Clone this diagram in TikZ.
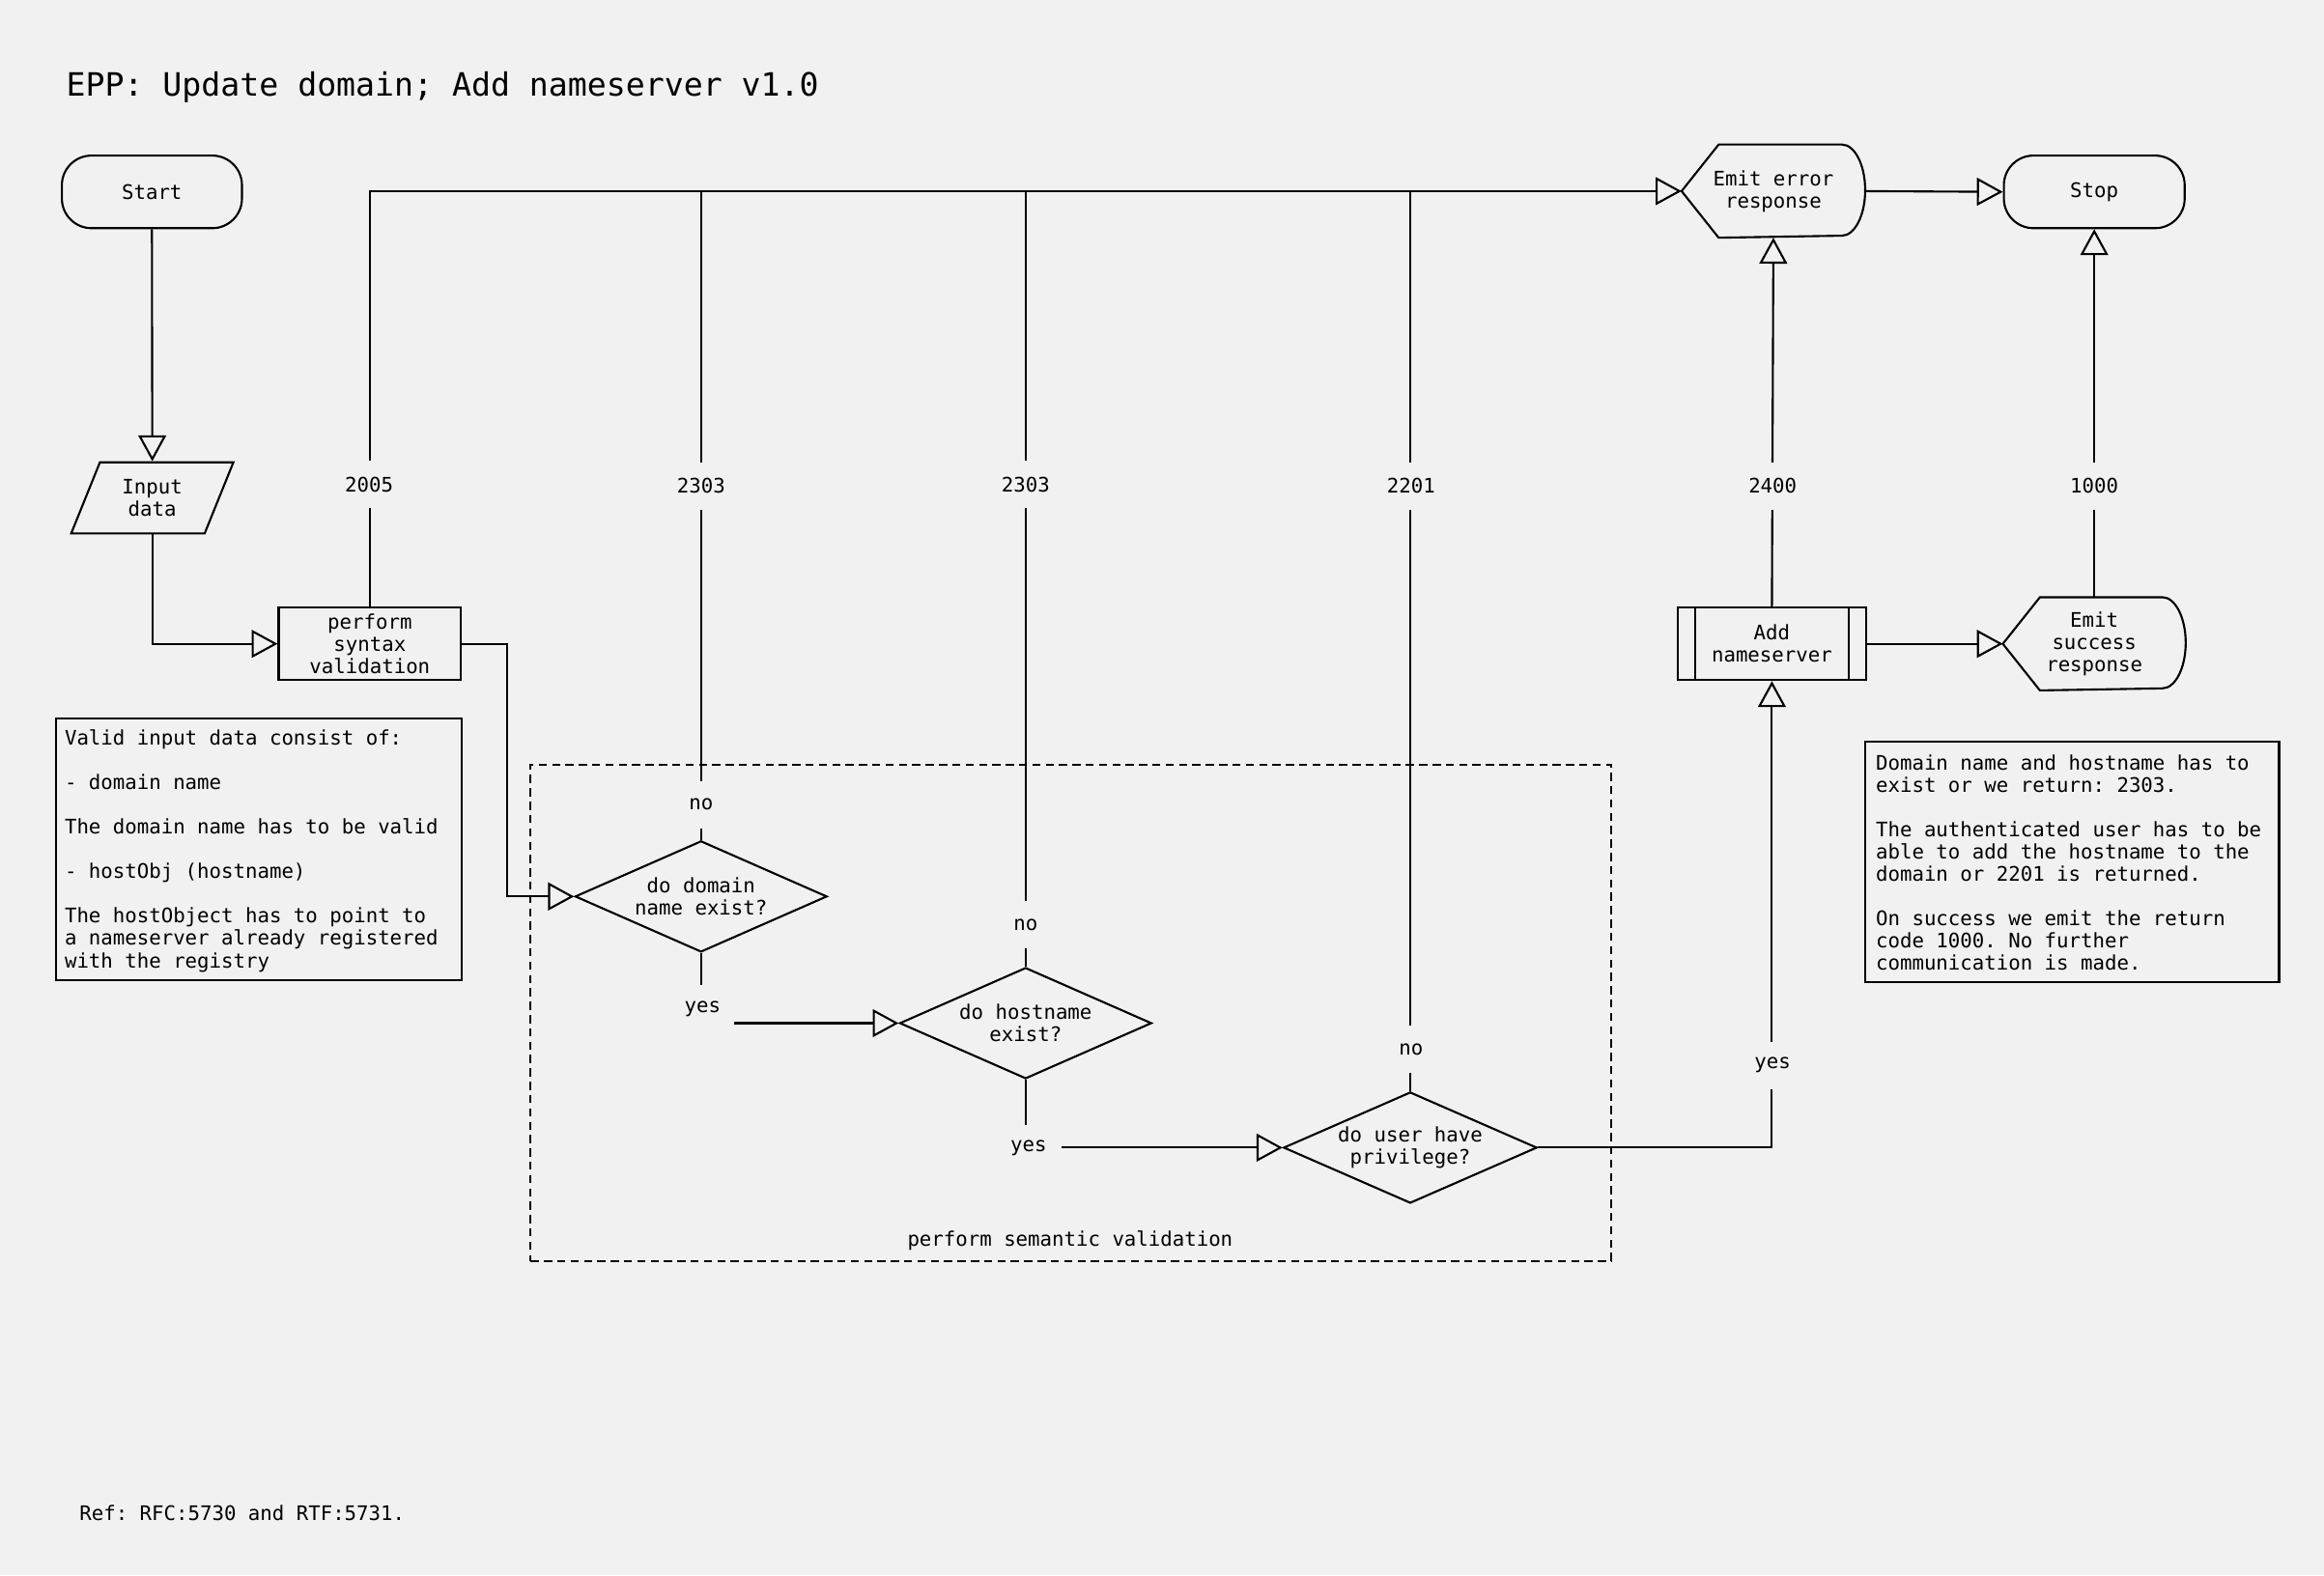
\documentclass[tikz,border=0pt]{standalone}
\usepackage{fontspec}
\newfontfamily\mono{DejaVu Sans Mono}
\usetikzlibrary{arrows.meta,shapes.geometric}
\definecolor{bgcol}{RGB}{241,241,241}
\frenchspacing
\begin{document}
\begin{tikzpicture}[x=0.4pt,y=-0.4pt, line width=0.55pt,
  txt/.style={font=\mono\fontsize{5.4}{6}\selectfont},
  shp/.style={txt, draw, align=center, inner sep=0pt},
  term/.style={shp, rounded corners=8pt, minimum width=48.6pt, minimum height=19.6pt},
  proc/.style={shp, rectangle, minimum height=19.6pt},
  io/.style={shp, trapezium, trapezium left angle=66, trapezium right angle=114, trapezium stretches=true, minimum width=43.8pt, minimum height=19.2pt},
  dec/.style={shp, diamond, aspect=2.27, minimum width=68pt, minimum height=30pt},
  disp/.style={txt, align=center, inner sep=0pt, minimum width=49pt, minimum height=24.6pt},
  lbl/.style={txt, fill=bgcol, inner xsep=1.5pt, inner ysep=0pt, minimum height=12.8pt},
  ylbl/.style={lbl, minimum width=17pt},
  arr/.style={-{Triangle[open,length=7pt,width=7.5pt]}},
  note/.style={draw, inner sep=0pt, anchor=north west},
  notetxt/.style={txt, align=left, anchor=north west, inner sep=0pt},
]
\fill[bgcol] (0,0) rectangle (1568,1063);
\useasboundingbox (0,0) rectangle (1568,1063);

% title and reference
\node[font=\mono\fontsize{8.65}{10}\selectfont, anchor=west, inner sep=0pt] (title) at (44,59) {EPP: Update domain; Add nameserver v1.0};
\node[txt, anchor=west, inner sep=0pt] (ref) at (53,1021) {Ref: RFC:5730 and RTF:5731.};

% semantic validation group
\node[draw, dash pattern=on 2.2pt off 1.4pt, minimum width=291.6pt, minimum height=134pt, inner sep=0pt] (sem) at (722.5,683.5) {};
\node[txt, inner sep=0pt] (semlbl) at (722,837) {perform semantic validation};

% nodes
\node[term] (start) at (102.5,129.5) {Start};
\node[io] (input) at (102.75,336) {Input\\data};
\node[proc, minimum width=49.2pt] (syntax) at (249.5,434.5) {perform\\syntax\\validation};
\node[dec] (d1) at (473,605) {do domain\\name exist?};
\node[dec] (d2) at (692,690.5) {do hostname\\exist?};
\node[dec, minimum width=68.4pt] (d3) at (951.5,774.5) {do user have\\privilege?};
\node[proc, minimum width=50.8pt] (add) at (1195.5,434.5) {Add\\nameserver};
\draw ([xshift=5pt]add.north west) -- ([xshift=5pt]add.south west);
\draw ([xshift=-5pt]add.north east) -- ([xshift=-5pt]add.south east);
\node[disp] (err) at (1196.5,129) {Emit error\\response};
\draw (err.west) -- ([xshift=10pt]err.north west) -- ([xshift=-6.3pt]err.north east)
  arc[start angle=90,end angle=-90,x radius=6.3pt,y radius=12.3pt] -- ([xshift=10pt]err.south west) -- cycle;
\node[disp, minimum width=48.8pt] (succ) at (1413,434.5) {Emit\\success\\response};
\draw (succ.west) -- ([xshift=10pt]succ.north west) -- ([xshift=-6.3pt]succ.north east)
  arc[start angle=90,end angle=-90,x radius=6.3pt,y radius=12.3pt] -- ([xshift=10pt]succ.south west) -- cycle;
\node[term, minimum width=48.8pt] (stop) at (1413,129.5) {Stop};

% notes
\node[note, minimum width=109.6pt, minimum height=70.8pt] (n1) at (37,484) {};
\node[notetxt] (n1t) at (43,492) {Valid input data consist of:\\[6pt]- domain name\\[6pt]The domain name has to be valid\\[6pt]- hostObj (hostname)\\[6pt]The hostObject has to point to\\a nameserver already registered\\with the registry};
\node[note, minimum width=111.6pt, minimum height=64.8pt] (n2) at (1258,500) {};
\node[notetxt] (n2t) at (1265,509) {Domain name and hostname has to\\exist or we return: 2303.\\[6pt]The authenticated user has to be\\able to add the hostname to the\\domain or 2201 is returned.\\[6pt]On success we emit the return\\code 1000. No further\\communication is made.};

% connectors
\coordinate (c1) at (342,434.5);
\draw[arr] (start.south) -- (input.north);
\draw[arr] (input.south -| input.center) |- (syntax.west);
\draw[arr] (syntax.north) |- (err.west);
\draw[arr] (syntax.east) -- (c1) |- (d1.west);
\draw (d1.north) -- (d1.north |- err.west);
\draw (d2.north) -- (d2.north |- err.west);
\draw (d3.north) -- (d3.north |- err.west);
\draw[arr] (d1.south) |- (d2.west);
\draw[arr] (d2.south) |- (d3.west);
\draw[arr] (d3.east) -| (add.south);
\draw[arr] (add.north) -- (err.south);
\draw[arr] (add.east) -- (succ.west);
\draw[arr] (succ.north) -- (stop.south);
\draw[arr] (err.east) -- (stop.west);

% connector labels
\node[lbl] (l2005) at (249,327) {2005};
\node[lbl] (l2303a) at (473,328) {2303};
\node[lbl] (l2303b) at (692,327) {2303};
\node[lbl] (l2201) at (952,328) {2201};
\node[lbl] (l2400) at (1196,328) {2400};
\node[lbl] (l1000) at (1413,328) {1000};
\node[lbl] (no1) at (473,543) {no};
\node[lbl] (no2) at (692,624) {no};
\node[lbl] (no3) at (952,708) {no};
\node[ylbl] (yes1) at (474,681) {yes};
\node[ylbl, minimum width=17.6pt] (yes2) at (694,775) {yes};
\node[lbl] (yes3) at (1196,719) {yes};
\end{tikzpicture}
\end{document}
